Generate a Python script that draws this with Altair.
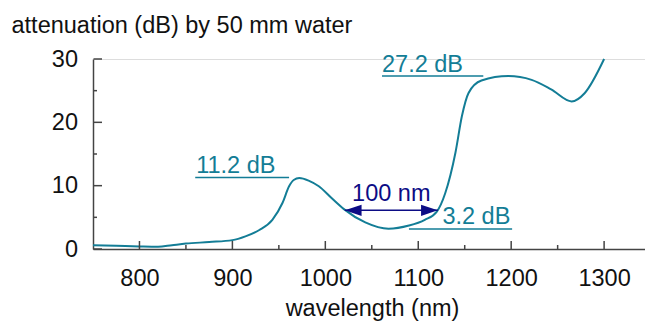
import altair as alt
import pandas as pd

# ---- data ----
wavelength = [750, 775, 800, 820, 835, 850, 875, 900, 914, 929, 943, 954, 961, 966, 972,
              982, 993, 1007, 1020, 1043, 1068, 1090, 1107, 1120, 1129, 1140, 1147, 1154,
              1168, 1197, 1222, 1243, 1265, 1279, 1300]
attenuation = [0.6, 0.5, 0.4, 0.35, 0.6, 0.85, 1.1, 1.4, 2.0, 3.0, 4.6, 7.3, 9.9, 10.9, 11.2,
               10.8, 9.9, 8.0, 6.3, 4.2, 3.2, 3.7, 4.6, 5.9, 8.8, 15.2, 21.0, 24.6,
               26.6, 27.3, 26.7, 25.2, 23.3, 24.6, 30.0]

x_major = [800, 900, 1000, 1100, 1200, 1300]
x_minor = [850, 950, 1050, 1150, 1250]
y_major = [0, 10, 20, 30]
y_minor = [5, 15, 25]

ann_text = ["11.2 dB", "27.2 dB", "3.2 dB"]
ann_x1 = [860, 1061, 1090]
ann_x2 = [961, 1170, 1201]
ann_y = [11.3, 27.3, 3.16]
ann_tx = [861, 1061, 1126]

arrow_x1 = [1021]
arrow_x2 = [1121]
arrow_y = [6.1]
arrow_label = ["100 nm"]
arrow_label_x = [1071]

TEAL = "#137d96"
NAVY = "#0c0c85"
FONT = "Liberation Sans"
FS = 23.5

xs = alt.Scale(domain=[750, 1344], nice=False, zero=False)
ys = alt.Scale(domain=[0, 30], nice=False)

XAXIS = alt.Axis(
    title="wavelength (nm)", values=x_major, format="d", ticks=False, tickSize=0,
    grid=False, labelPadding=17, labelFont=FONT, labelFontSize=FS,
    labelColor="#111", domainColor="#444", domainWidth=1.5,
    titleFont=FONT, titleFontSize=FS, titleFontWeight="normal", titleColor="#111",
    titleBaseline="alphabetic", titleY=66, titleX=279, labelFlush=False)
YAXIS = alt.Axis(
    title="attenuation (dB) by 50 mm water", values=y_major, format="d", ticks=False, tickSize=0,
    grid=False, labelPadding=15.5, labelFont=FONT, labelFontSize=FS,
    labelColor="#111", domainColor="#444", domainWidth=1.5,
    titleFont=FONT, titleFontSize=FS, titleFontWeight="normal", titleColor="#111",
    titleAngle=0, titleAlign="left", titleBaseline="alphabetic",
    titleX=-82, titleY=-27)


def X(field):
    return alt.X(field, scale=xs, axis=XAXIS)


def Y(field):
    return alt.Y(field, scale=ys, axis=YAXIS)


curve_df = pd.DataFrame({"wl": wavelength, "att": attenuation})

curve = alt.Chart(curve_df).mark_line(
    color=TEAL, strokeWidth=2, interpolate="monotone"
).encode(x=X("wl:Q"), y=Y("att:Q"))


def xticks(vals, length):
    return alt.Chart(pd.DataFrame({"v": vals})).mark_rule(color="#444", strokeWidth=1.5).encode(
        x=X("v:Q"), y=alt.value(190), y2=alt.value(190 - length))


def yticks(vals, length):
    return alt.Chart(pd.DataFrame({"v": vals})).mark_rule(color="#444", strokeWidth=1.5).encode(
        y=Y("v:Q"), x=alt.value(0.5), x2=alt.value(length))


ann_df = pd.DataFrame({"t": ann_text, "x1": ann_x1, "x2": ann_x2, "y": ann_y, "tx": ann_tx})
underlines = alt.Chart(ann_df).mark_rule(color=TEAL, strokeWidth=1.5).encode(
    x=X("x1:Q"), x2="x2:Q", y=Y("y:Q"))
ann_texts = alt.Chart(ann_df).mark_text(
    color=TEAL, font=FONT, fontSize=FS, align="left", baseline="alphabetic", dy=-4.5
).encode(x=X("tx:Q"), y=Y("y:Q"), text="t:N")

arr_df = pd.DataFrame({"x1": arrow_x1, "x2": arrow_x2, "y": arrow_y,
                       "lab": arrow_label, "lx": arrow_label_x})
arrow_line = alt.Chart(arr_df).mark_rule(color=NAVY, strokeWidth=1.5).encode(
    x=X("x1:Q"), x2="x2:Q", y=Y("y:Q"))
head_left = alt.Chart(arr_df).mark_point(
    shape="M0,0L2,-0.66L2,0.66Z", size=280, filled=True, color=NAVY, opacity=1
).encode(x=X("x1:Q"), y=Y("y:Q"))
head_right = alt.Chart(arr_df).mark_point(
    shape="M0,0L-2,-0.66L-2,0.66Z", size=280, filled=True, color=NAVY, opacity=1
).encode(x=X("x2:Q"), y=Y("y:Q"))
arrow_text = alt.Chart(arr_df).mark_text(
    color=NAVY, font=FONT, fontSize=FS, align="center", baseline="alphabetic", dy=-9
).encode(x=X("lx:Q"), y=Y("y:Q"), text="lab:N")

chart = alt.layer(
    curve,
    xticks(x_major, 8), xticks(x_minor, 4),
    yticks(y_major, 9), yticks(y_minor, 4),
    underlines, ann_texts,
    arrow_line, head_left, head_right, arrow_text,
).properties(
    width=552, height=190,
    autosize=alt.AutoSizeParams(type="none"),
    padding={"left": 93, "top": 59, "right": 0, "bottom": 73},
).configure_view(stroke=None).configure(background="white")

chart.save("out.html", embed_options={"renderer": "svg", "actions": False})
